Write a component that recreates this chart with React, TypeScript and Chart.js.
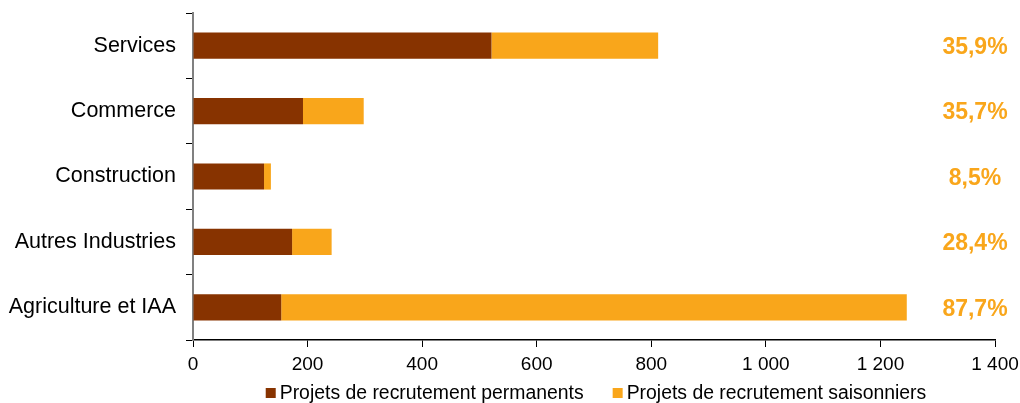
import React, { useEffect, useRef } from "react";
import { Chart, registerables } from "chart.js";

Chart.register(...registerables);

const categories = ["Services", "Commerce", "Construction", "Autres Industries", "Agriculture et IAA"];
const permanents = [521, 192, 124, 173, 154];
const saisonniers = [291, 106, 12, 69, 1092];
const pctLabels = ["35,9%", "35,7%", "8,5%", "28,4%", "87,7%"];
const xTicks = [0, 200, 400, 600, 800, 1000, 1200, 1400];

const BROWN = "#873300";
const ORANGE = "#F9A61B";
const FONT = "Arial, 'Liberation Sans', sans-serif";

const pctPlugin = {
  id: "pctPlugin",
  afterDraw(chart: any) {
    const ctx = chart.ctx;
    const y = chart.scales.y;
    ctx.save();
    ctx.font = `bold 23px ${FONT}`;
    ctx.fillStyle = ORANGE;
    ctx.textAlign = "center";
    ctx.textBaseline = "middle";
    pctLabels.forEach((t, i) => {
      ctx.fillText(t, 975, y.getPixelForValue(i) + 2);
    });
    ctx.restore();
  },
};

const legendPlugin = {
  id: "customLegend",
  afterDraw(chart: any) {
    const ctx = chart.ctx;
    const area = chart.chartArea;
    const ds = chart.data.datasets;
    ctx.save();
    ctx.font = `19.4px ${FONT}`;
    ctx.textBaseline = "middle";
    ctx.textAlign = "left";
    const box = 10;
    const gap = 4;
    const itemGap = 29;
    const widths = ds.map((d: any) => box + gap + ctx.measureText(d.label).width);
    const total = widths.reduce((a: number, b: number) => a + b, 0) + itemGap * (ds.length - 1);
    let x = (area.left + area.right) / 2 + 2 - total / 2;
    const yc = 393;
    ds.forEach((d: any, i: number) => {
      ctx.fillStyle = d.backgroundColor;
      ctx.fillRect(x, yc - box / 2, box, box);
      ctx.fillStyle = "#000000";
      ctx.fillText(d.label, x + box + gap, yc + 1);
      x += widths[i] + itemGap;
    });
    ctx.restore();
  },
};

export default function App() {
  const ref = useRef<HTMLCanvasElement | null>(null);
  useEffect(() => {
    document.body.style.margin = "0";
    const chart = new Chart(ref.current!, {
      type: "bar",
      data: {
        labels: categories,
        datasets: [
          {
            label: "Projets de recrutement permanents",
            data: permanents,
            backgroundColor: BROWN,
            categoryPercentage: 1,
            barPercentage: 0.4,
          },
          {
            label: "Projets de recrutement saisonniers",
            data: saisonniers,
            backgroundColor: ORANGE,
            categoryPercentage: 1,
            barPercentage: 0.4,
          },
        ],
      },
      options: {
        indexAxis: "y",
        animation: false,
        responsive: false,
        layout: { padding: { top: 13, right: 25, left: 0, bottom: 23 } },
        scales: {
          x: {
            stacked: true,
            min: 0,
            max: 1400,
            afterBuildTicks(scale: any) {
              scale.ticks = xTicks.map((v) => ({ value: v }));
            },
            afterFit(scale: any) {
              scale.height = 40;
              scale.paddingLeft = 0;
              scale.paddingRight = 0;
            },
            border: { color: "#000000", width: 1.5 },
            grid: { drawOnChartArea: false, drawTicks: true, tickLength: 7, color: "#000000" },
            ticks: {
              color: "#000000",
              font: { family: FONT, size: 19 },
              padding: 6,
              maxRotation: 0,
              callback: (v: any) => String(v).replace(/\B(?=(\d{3})+(?!\d))/g, " "),
            },
          },
          y: {
            stacked: true,
            afterFit(scale: any) {
              scale.width = 193;
              scale.paddingTop = 0;
              scale.paddingBottom = 0;
            },
            border: { color: "#808080", width: 2 },
            grid: { drawOnChartArea: false, drawTicks: true, tickLength: 7, color: "#000000", offset: true },
            ticks: {
              color: "#000000",
              font: { family: FONT, size: 21.5 },
              padding: 10,
            },
          },
        },
        plugins: {
          legend: { display: false },
          tooltip: { enabled: false },
        },
      },
      plugins: [pctPlugin, legendPlugin],
    });
    return () => chart.destroy();
  }, []);
  return (
    <div style={{ width: 1020, height: 403 }}>
      <canvas ref={ref} width={1020} height={403} />
    </div>
  );
}
